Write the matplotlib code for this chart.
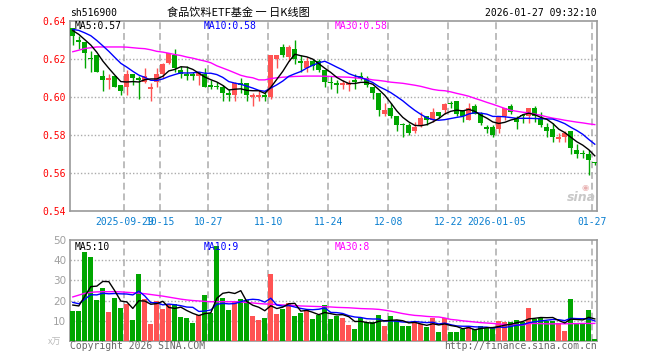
import numpy as np
import matplotlib
matplotlib.use("Agg")
import matplotlib.pyplot as plt

# ---------------- data ----------------
opens = [0.636,0.630,0.629,0.620,0.622,0.611,0.609,0.611,0.606,0.605,
         0.612,0.610,0.608,0.604,0.608,0.612,0.618,0.622,0.614,0.612,
         0.612,0.611,0.612,0.606,0.605,0.605,0.602,0.601,0.607,0.607,
         0.600,0.600,0.601,0.600,0.620,0.626,0.621,0.625,0.619,0.615,
         0.619,0.619,0.614,0.608,0.607,0.606,0.606,0.609,0.611,0.610,
         0.605,0.602,0.591,0.594,0.590,0.585,0.585,0.582,0.585,0.590,
         0.588,0.592,0.593,0.597,0.598,0.593,0.588,0.595,0.591,0.584,
         0.584,0.583,0.590,0.595,0.589,0.590,0.590,0.594,0.589,0.584,
         0.583,0.578,0.579,0.582,0.572,0.570,0.570,0.565]
highs = [0.636,0.632,0.629,0.624,0.622,0.614,0.612,0.611,0.606,0.614,
         0.612,0.611,0.615,0.607,0.615,0.618,0.623,0.625,0.616,0.616,
         0.613,0.613,0.615,0.609,0.608,0.606,0.604,0.608,0.610,0.607,
         0.602,0.603,0.603,0.622,0.622,0.628,0.627,0.630,0.622,0.621,
         0.620,0.620,0.614,0.611,0.609,0.609,0.609,0.612,0.613,0.611,
         0.605,0.602,0.597,0.597,0.590,0.586,0.586,0.587,0.592,0.590,
         0.594,0.592,0.597,0.598,0.598,0.593,0.597,0.596,0.592,0.585,
         0.585,0.590,0.594,0.596,0.590,0.591,0.594,0.595,0.592,0.586,
         0.586,0.581,0.582,0.582,0.575,0.572,0.572,0.566]
lows = [0.627,0.625,0.615,0.613,0.613,0.603,0.604,0.605,0.601,0.601,
        0.606,0.599,0.607,0.598,0.605,0.610,0.617,0.613,0.610,0.609,
        0.609,0.606,0.605,0.604,0.604,0.598,0.598,0.598,0.602,0.598,
        0.595,0.598,0.598,0.599,0.615,0.621,0.619,0.617,0.613,0.613,
        0.614,0.613,0.605,0.604,0.602,0.604,0.603,0.604,0.609,0.605,
        0.599,0.590,0.590,0.589,0.582,0.579,0.580,0.581,0.584,0.585,
        0.587,0.589,0.591,0.594,0.590,0.587,0.588,0.591,0.585,0.581,
        0.579,0.581,0.588,0.591,0.583,0.586,0.586,0.587,0.584,0.579,
        0.576,0.576,0.576,0.570,0.568,0.568,0.559,0.564]
closes = [0.632,0.629,0.623,0.620,0.613,0.609,0.610,0.605,0.603,0.612,
          0.610,0.609,0.611,0.605,0.612,0.617,0.623,0.615,0.612,0.611,
          0.611,0.613,0.605,0.605,0.605,0.602,0.601,0.607,0.606,0.601,
          0.601,0.601,0.600,0.622,0.622,0.622,0.626,0.620,0.618,0.619,
          0.616,0.614,0.608,0.607,0.606,0.607,0.607,0.608,0.610,0.606,
          0.602,0.593,0.593,0.590,0.585,0.585,0.581,0.584,0.589,0.588,
          0.592,0.590,0.596,0.596,0.591,0.590,0.594,0.591,0.586,0.583,
          0.580,0.590,0.594,0.592,0.587,0.590,0.594,0.590,0.585,0.582,
          0.579,0.579,0.581,0.573,0.570,0.570,0.567,0.565]
prior_closes = [0.634,0.636,0.635,0.638,0.637,0.639,0.637,0.634,0.632]

volumes = [14.75,14.75,44.4,41.75,20.25,26.4,14.25,21.4,16.4,18.1,
           10.25,33.25,20.75,8.4,19.75,15.9,18.1,18.1,11.75,11.25,
           8.9,12.75,22.75,13.75,47.4,21.4,15.25,19.75,20.75,20.25,
           12.25,10.25,11.1,33.25,13.25,15.75,18.6,12.25,13.75,15.25,
           10.75,12.8,17.75,10.75,12.25,11.25,7.75,5.75,11.25,9.25,
           9.25,12.75,7.25,12.25,10.25,7.25,7.25,8.75,8.25,6.75,
           11.25,4.25,11.25,4.25,4.25,5.75,7.25,5.75,7.25,6.25,
           6.25,9.75,9.25,9.25,10.25,9.25,16.25,10.75,11.25,9.75,
           9.75,8.75,4.75,20.75,8.75,8.75,15.25,0.75]
prior_vols = [22, 21, 20, 21, 18.25, 17, 20, 18, 19]

ma30_price = [0.6237,0.6245,0.6254,0.6258,0.6262,0.6262,0.6262,0.6262,0.6262,0.6261,
              0.6258,0.6255,0.6253,0.6247,0.6239,0.6235,0.6229,0.6222,0.6217,0.6209,
              0.6203,0.6195,0.6188,0.6179,0.6163,0.6151,0.6139,0.6126,0.6113,0.6105,
              0.6100,0.6089,0.6089,0.6096,0.6100,0.6103,0.6105,0.6107,0.6108,0.6109,
              0.6109,0.6109,0.6108,0.6107,0.6105,0.6104,0.6103,0.6100,0.6097,0.6095,
              0.6089,0.6086,0.6082,0.6077,0.6074,0.6071,0.6066,0.6061,0.6055,0.6047,
              0.6039,0.6034,0.6032,0.6026,0.6018,0.6011,0.6003,0.5992,0.5982,0.5971,
              0.5961,0.5950,0.5939,0.5929,0.5924,0.5919,0.5916,0.5909,0.5903,0.5895,
              0.5888,0.5883,0.5877,0.5872,0.5867,0.5863,0.5858,0.5854]
ma30_vol = [21.8,22.7,23.6,24.1,24.3,24.4,24.4,24.4,24.3,24.1,
            23.9,23.7,23.4,23.0,22.6,22.2,21.7,21.2,20.7,20.3,
            20.0,19.8,19.6,19.4,19.4,19.4,19.4,19.4,19.3,19.0,
            18.8,18.5,18.3,18.2,18.0,17.8,17.7,17.5,17.3,17.2,
            17.1,17.0,16.9,16.8,16.6,16.5,16.4,16.2,16.0,15.9,
            15.8,15.6,15.2,14.7,14.1,13.5,13.0,12.6,12.4,12.1,
            11.9,11.8,11.3,10.6,10.3,9.9,9.6,9.3,9.0,8.8,
            8.6,8.3,8.1,7.9,7.8,7.8,8.5,8.6,8.5,8.4,
            8.4,8.4,8.4,8.5,8.5,8.6,8.6,8.6]

tick_idx = [9, 15, 23, 33, 43, 53, 63, 71, 87]
tick_labels = ["2025-09-29", "10-15", "10-27", "11-10", "11-24",
               "12-08", "12-22", "2026-01-05", "01-27"]
price_ticks = [0.54, 0.56, 0.58, 0.60, 0.62, 0.64]
vol_ticks = [10, 20, 30, 40, 50]

# ---------------- helpers ----------------
def sma(series, prior, n):
    full = np.array(list(prior) + list(series), dtype=float)
    k = len(prior)
    return np.array([full[k + i - n + 1:k + i + 1].mean() for i in range(len(series))])

o = np.array(opens); h = np.array(highs); l = np.array(lows); c = np.array(closes)
v = np.array(volumes)
x = np.arange(len(c))
RED = "#ff5353"
GREEN = "#00a600"
cols = [RED if cc > oo else GREEN for oo, cc in zip(o, c)]

ma5 = sma(c, prior_closes, 5)
ma10 = sma(c, prior_closes, 10)
vma5 = sma(v, prior_vols, 5)
vma10 = sma(v, prior_vols, 10)

W, H = 660, 360
fig = plt.figure(figsize=(6.6, 3.6), dpi=100)
fig.patch.set_facecolor("white")

L, R = 70.3, 597.0
ax1 = fig.add_axes([L / W, 1 - 211 / H, (R - L) / W, (211 - 20.7) / H])
ax2 = fig.add_axes([L / W, 1 - 340.7 / H, (R - L) / W, (340.7 - 240.3) / H])

xlim = (-0.42, 87.37)
MONO = "DejaVu Sans Mono"
GRID = "#ababab"
grid_x = [t - 0.42 for t in tick_idx]

for ax in (ax1, ax2):
    ax.set_xlim(*xlim)
    for s in ax.spines.values():
        s.set_color("#999999")
        s.set_linewidth(1.2)
    ax.tick_params(length=0)
    for gx in grid_x:
        ax.axvline(gx, color=GRID, lw=1.1, ls=(0, (4.5, 2.5)), zorder=0)

# price panel
ax1.set_ylim(0.54, 0.64)
for gy in price_ticks[1:-1]:
    ax1.axhline(gy, color=GRID, lw=1, ls=(0, (1, 1.5)), zorder=0)
ax1.vlines(x, l, h, colors=cols, lw=1, zorder=2)
bottoms = np.minimum(o, c)
heights = np.maximum(np.abs(c - o), 0.0005)
ax1.bar(x, heights, bottom=bottoms, width=0.78, color=cols, lw=0, zorder=3)
ax1.plot(x, ma30_price, color="#ff00ff", lw=1, zorder=4)
ax1.plot(x, ma10, color="#0000ff", lw=1, zorder=5)
ax1.plot(x, ma5, color="black", lw=1, zorder=6)
ax1.set_yticks(price_ticks)
ax1.set_yticklabels(["%.2f" % t for t in price_ticks], color="#ff0000",
                    fontfamily=MONO, fontsize=7)
ax1.tick_params(axis="y", pad=3)
ax1.set_xticks(grid_x)
ax1.set_xticklabels(tick_labels, color="#0a7fd0", fontfamily=MONO, fontsize=7)
ax1.tick_params(axis="x", pad=4.5)

# volume panel
ax2.set_ylim(0, 50)
for gy in vol_ticks[:-1]:
    ax2.axhline(gy, color=GRID, lw=1, ls=(0, (1, 1.5)), zorder=0)
ax2.bar(x, v, width=0.84, color=cols, lw=0, zorder=3)
ax2.plot(x, ma30_vol, color="#ff00ff", lw=1, zorder=4)
ax2.plot(x, vma10, color="#0000ff", lw=1, zorder=5)
ax2.plot(x, vma5, color="black", lw=1, zorder=6)
ax2.set_yticks(vol_ticks)
ax2.set_yticklabels([str(t) for t in vol_ticks], color="#a0a0a0",
                    fontfamily="DejaVu Sans", fontsize=7.5)
ax2.tick_params(axis="y", pad=3)
ax2.set_xticks([])

def ftext(px, py, s, **kw):
    fig.text(px / W, 1 - py / H, s, **kw)

# header
ftext(70, 13.3, "sh516900", fontfamily=MONO, fontsize=7, va="center", ha="left")
ftext(238, 12.5, "食品饮料ETF基金 一 日K线图", family=["Noto Sans CJK SC", "DejaVu Sans"],
      fontsize=8, va="center", ha="center")
ftext(597, 13.3, "2026-01-27 09:32:10", fontfamily=MONO, fontsize=7, va="center", ha="right")

# MA labels
ftext(75, 26, "MA5:0.57", fontfamily=MONO, fontsize=7, va="center", color="black")
ftext(204, 26, "MA10:0.58", fontfamily=MONO, fontsize=7, va="center", color="#0000ff")
ftext(335, 26, "MA30:0.58", fontfamily=MONO, fontsize=7, va="center", color="#ff00ff")
ftext(75, 246.5, "MA5:10", fontfamily=MONO, fontsize=7, va="center", color="black")
ftext(204, 246.5, "MA10:9", fontfamily=MONO, fontsize=7, va="center", color="#0000ff")
ftext(335, 246.5, "MA30:8", fontfamily=MONO, fontsize=7, va="center", color="#ff00ff")

# footer
ftext(70, 346, "Copyright 2026 SINA.COM", fontfamily=MONO, fontsize=7, va="center",
      ha="left", color="#666666")
ftext(597, 346, "http://finance.sina.com.cn", fontfamily=MONO, fontsize=7, va="center",
      ha="right", color="#666666")
ftext(48, 342, "x万", family=["Noto Sans CJK SC", "DejaVu Sans"], fontsize=6.5,
      va="center", ha="left", color="#bbbbbb")

# watermark
ftext(581, 197, "sina", fontfamily="DejaVu Sans", fontsize=9, fontweight="bold",
      fontstyle="italic", va="center", ha="center", color="#c8c8c8")
ftext(585, 187, "◉", fontfamily="DejaVu Sans", fontsize=6, va="center", ha="center",
      color="#e8b0b0")

fig.savefig("out.png", dpi=100, facecolor="white")
